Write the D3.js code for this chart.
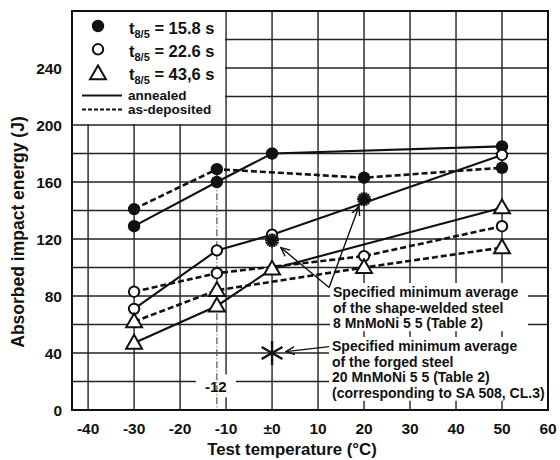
<!DOCTYPE html>
<html>
<head>
<meta charset="utf-8">
<script src="https://cdn.jsdelivr.net/npm/d3@7"></script>
<style>
  body { margin: 0; background: #fff; }
  svg text { font-family: "Liberation Sans", Arial, sans-serif; font-weight: bold; fill: #111; }
</style>
</head>
<body>
<div class="chart"></div>
<script>
// test temperatures (°C)
const tempAnnealed = [-30, -12, 0, 50];
const tempDeposited = [-30, -12, 20, 50];

// absorbed impact energy (J)
const e158Annealed = [129, 160, 180, 185];
const e158Deposited = [141, 169, 163, 170];
const e226Annealed = [71, 112, 123, 179];
const e226Deposited = [83, 96, 108, 129];
const e436Annealed = [47, 73, 99, 142];
const e436Deposited = [62, 84, 100, 114];

// specified minimum averages
const specWeldedTemp = [0, 20];
const specWeldedVal = [119, 148];
const specForgedTemp = [0];
const specForgedVal = [40];

const xTicks = [-40, -30, -20, -10, 0, 10, 20, 30, 40, 50, 60];
const xTickLabels = ["-40", "-30", "-20", "-10", "\u00b10", "10", "20", "30", "40", "50", "60"];
const yTicks = [0, 40, 80, 120, 160, 200, 240];

const legendLabels = ["15.8 s", "22.6 s", "43,6 s"];
const lineLabels = ["annealed", "as-deposited"];
const noteWelded = ["Specified minimum average", "of the shape-welded steel", "8 MnMoNi 5 5 (Table 2)"];
const noteForged = ["Specified minimum average", "of the forged steel", "20 MnMoNi 5 5 (Table 2)", "(corresponding to SA 508, CL.3)"];

const width = 560, height = 460;

const svg = d3.select(".chart").append("svg")
    .attr("width", width)
    .attr("height", height);

const x = d3.scaleLinear().domain([-43.5, 60]).range([72, 548]);
const y = d3.scaleLinear().domain([0, 280]).range([410, 11]);

// arrow head
svg.append("defs").append("marker")
    .attr("id", "arrow")
    .attr("viewBox", "0 -5 10 10")
    .attr("refX", 9).attr("refY", 0)
    .attr("markerUnits", "userSpaceOnUse")
    .attr("markerWidth", 10).attr("markerHeight", 10)
    .attr("orient", "auto")
    .append("path")
    .attr("d", "M0,-4L9,0L0,4")
    .attr("fill", "none")
    .attr("stroke", "#111")
    .attr("stroke-width", 1.4);

// grid
svg.append("g").selectAll("line")
    .data(d3.range(-40, 60, 10))
    .enter().append("line")
    .attr("x1", d => x(d)).attr("x2", d => x(d))
    .attr("y1", y(0)).attr("y2", y(280))
    .attr("stroke", "#222").attr("stroke-width", 1.4);

svg.append("g").selectAll("line")
    .data(d3.range(20, 280, 20))
    .enter().append("line")
    .attr("x1", x(-43.5)).attr("x2", x(60))
    .attr("y1", d => y(d)).attr("y2", d => y(d))
    .attr("stroke", "#222").attr("stroke-width", 1.4);

// white patches behind legend and notes
svg.append("rect")
    .attr("x", x(-43.5) + 1).attr("y", y(280) + 1)
    .attr("width", x(-10) - x(-43.5) - 2)
    .attr("height", y(200) - y(280) - 2)
    .attr("fill", "#fff");

svg.append("rect")
    .attr("x", x(-12) - 21).attr("y", y(25))
    .attr("width", 40).attr("height", 23)
    .attr("fill", "#fff");

// dash-dot marker line at -12 °C
svg.append("line")
    .attr("x1", x(-12)).attr("x2", x(-12))
    .attr("y1", y(169)).attr("y2", y(0))
    .attr("stroke", "#555").attr("stroke-width", 1.2)
    .attr("stroke-dasharray", "7,2,1,2");

svg.append("text")
    .attr("x", x(-12) - 1).attr("y", y(12.3))
    .attr("text-anchor", "middle")
    .style("font-size", "15px")
    .text("-12");

// notes
function note(lines, x0, yBase, boxRight) {
    const g = svg.append("g");
    const bg = g.append("rect").attr("fill", "#fff");
    const t = g.append("g");
    lines.forEach((s, i) => {
        t.append("text")
            .attr("x", x0).attr("y", yBase + i * 15.6)
            .style("font-size", "14px")
            .text(s);
    });
    const bb = t.node().getBBox();
    bg.attr("x", bb.x - 3).attr("y", bb.y - 1)
        .attr("width", boxRight - bb.x + 3)
        .attr("height", bb.height + 1);
}
note(noteWelded, 333, 297, 528);
note(noteForged, 332, 351, 547);

// series lines
const series = [
    {t: tempAnnealed, v: e158Annealed, dash: false, mark: "filled"},
    {t: tempDeposited, v: e158Deposited, dash: true, mark: "filled"},
    {t: tempAnnealed, v: e226Annealed, dash: false, mark: "open"},
    {t: tempDeposited, v: e226Deposited, dash: true, mark: "open"},
    {t: tempAnnealed, v: e436Annealed, dash: false, mark: "tri"},
    {t: tempDeposited, v: e436Deposited, dash: true, mark: "tri"}
];

const line = d3.line().x(d => x(d[0])).y(d => y(d[1]));

series.forEach(s => {
    const pts = s.t.map((t, i) => [t, s.v[i]]);
    svg.append("path")
        .attr("d", line(pts))
        .attr("fill", "none")
        .attr("stroke", "#111")
        .attr("stroke-width", s.dash ? 2.6 : 2.1)
        .attr("stroke-dasharray", s.dash ? "6,3" : null);
});

function drawMark(g, kind, cx, cy) {
    if (kind === "filled") {
        g.append("circle").attr("cx", cx).attr("cy", cy).attr("r", 6.2)
            .attr("fill", "#111");
    } else if (kind === "open") {
        g.append("circle").attr("cx", cx).attr("cy", cy).attr("r", 5.2)
            .attr("fill", "#fff").attr("stroke", "#111").attr("stroke-width", 2);
    } else {
        g.append("path")
            .attr("d", d3.symbol(d3.symbolTriangle, 110)())
            .attr("transform", `translate(${cx},${cy + 1})`)
            .attr("fill", "#fff").attr("stroke", "#111").attr("stroke-width", 2);
    }
}

const marks = svg.append("g");
series.forEach(s => {
    s.t.forEach((t, i) => drawMark(marks, s.mark, x(t), y(s.v[i])));
});

// specified minimum stars
function burst(cx, cy, r, n, w) {
    const g = svg.append("g").attr("transform", `translate(${cx},${cy})`);
    d3.range(n).forEach(k => {
        const a = Math.PI * k / n;
        g.append("line")
            .attr("x1", -r * Math.cos(a)).attr("y1", -r * Math.sin(a))
            .attr("x2", r * Math.cos(a)).attr("y2", r * Math.sin(a))
            .attr("stroke", "#111").attr("stroke-width", w);
    });
}
specWeldedTemp.forEach((t, i) => burst(x(t), y(specWeldedVal[i]), 7, 8, 2));
specForgedTemp.forEach((t, i) => {
    const g = svg.append("g").attr("transform", `translate(${x(t)},${y(specForgedVal[i])})`);
    [90, 30, -30].forEach(deg => {
        const a = deg * Math.PI / 180;
        g.append("line")
            .attr("x1", -12 * Math.cos(a)).attr("y1", -12 * Math.sin(a))
            .attr("x2", 12 * Math.cos(a)).attr("y2", 12 * Math.sin(a))
            .attr("stroke", "#111").attr("stroke-width", 2.4);
    });
});

// arrows from the notes
const arrowFrom = [[12.4, 86], [12.4, 86], [12.4, 44.5]];
const arrowTo = [[1.9, 114], [18.9, 143], [3, 41]];
arrowFrom.forEach((f, i) => {
    svg.append("line")
        .attr("x1", x(f[0])).attr("y1", y(f[1]))
        .attr("x2", x(arrowTo[i][0])).attr("y2", y(arrowTo[i][1]))
        .attr("stroke", "#111").attr("stroke-width", 1.4)
        .attr("marker-end", "url(#arrow)");
});

// legend
const leg = svg.append("g");
legendLabels.forEach((s, i) => {
    const ly = 26 + i * 23.3;
    drawMark(leg, ["filled", "open", "tri"][i], 98, ly + (i === 2 ? 1 : 0));
    const t = leg.append("text").attr("x", 129).attr("y", ly + 7.5)
        .style("font-size", "16.5px");
    t.append("tspan").text("t");
    t.append("tspan").attr("dy", 4).style("font-size", "11px").text("8/5");
    t.append("tspan").attr("dy", -4).text(" = " + s);
});
lineLabels.forEach((s, i) => {
    const ly = 95.5 + i * 14;
    leg.append("line")
        .attr("x1", 82).attr("x2", 122)
        .attr("y1", ly).attr("y2", ly)
        .attr("stroke", "#111").attr("stroke-width", i ? 2.2 : 2)
        .attr("stroke-dasharray", i ? "4,2" : null);
    leg.append("text").attr("x", 128).attr("y", ly + 4.5)
        .style("font-size", "13.5px")
        .text(s);
});

// frame
svg.append("rect")
    .attr("x", x(-43.5)).attr("y", y(280))
    .attr("width", x(60) - x(-43.5))
    .attr("height", y(0) - y(280))
    .attr("fill", "none")
    .attr("stroke", "#111").attr("stroke-width", 2);

// tick labels
svg.append("g").selectAll("text")
    .data(xTicks)
    .enter().append("text")
    .attr("x", d => x(d))
    .attr("y", 434)
    .attr("text-anchor", "middle")
    .style("font-size", "15.5px")
    .text((d, i) => xTickLabels[i]);

svg.append("g").selectAll("text")
    .data(yTicks)
    .enter().append("text")
    .attr("x", 62)
    .attr("y", d => y(d) + 5.5)
    .attr("text-anchor", "end")
    .style("font-size", "15.5px")
    .text(d => d);

// axis titles
svg.append("text")
    .attr("x", 292).attr("y", 455)
    .attr("text-anchor", "middle")
    .style("font-size", "16.8px")
    .text("Test temperature (\u00b0C)");

svg.append("text")
    .attr("transform", "translate(24,232) rotate(-90)")
    .attr("text-anchor", "middle")
    .style("font-size", "17.5px")
    .text("Absorbed impact energy (J)");
</script>
</body>
</html>
